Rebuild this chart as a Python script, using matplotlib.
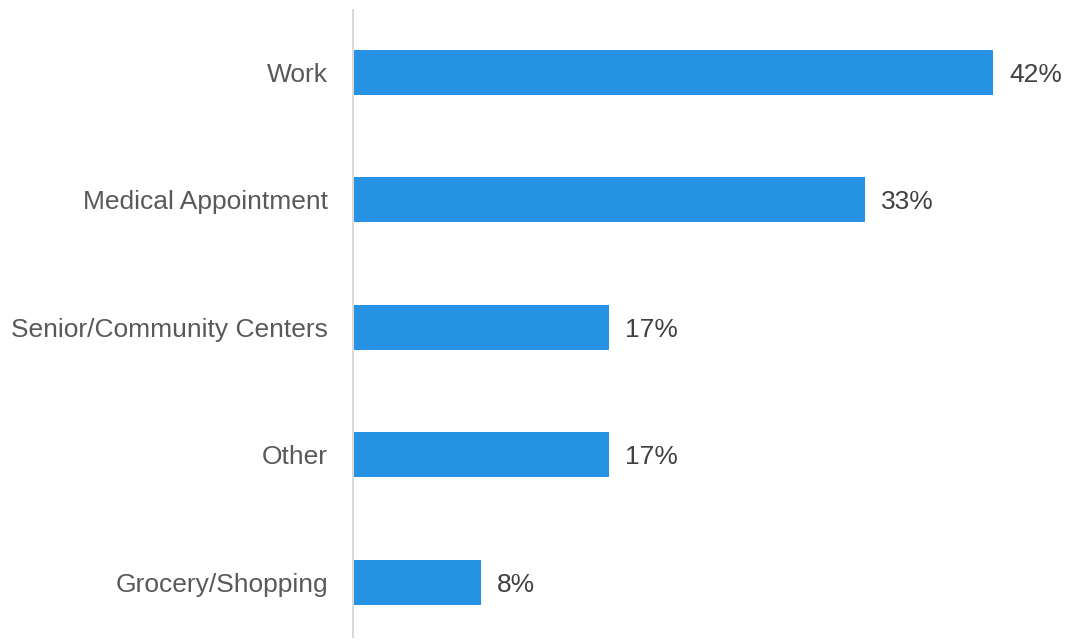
import matplotlib
matplotlib.use("Agg")
import matplotlib.pyplot as plt

categories = ["Work", "Medical Appointment", "Senior/Community Centers", "Other", "Grocery/Shopping"]
shares = [41.67, 33.33, 16.67, 16.67, 8.33]

plt.rcParams["font.family"] = ["Liberation Sans", "DejaVu Sans"]

fig = plt.figure(figsize=(10.67, 6.41), dpi=100)
ax = fig.add_axes([353 / 1067, 1 - 637 / 641, (1067 - 353) / 1067, (637 - 10) / 641])

pos = list(range(len(categories)))
bars = ax.barh(pos, shares, height=0.353, color="#2692E4", left=0)

ax.set_ylim(len(categories) - 1 + 0.43, -0.49)
ax.set_xlim(0, (1067 - 353) / 15.37)

ax.set_yticks(pos)
ax.set_yticklabels(categories, fontsize=19, color="#595959")
ax.tick_params(axis="y", length=0, pad=18)
ax.set_xticks([])

for s in ["top", "right", "bottom"]:
    ax.spines[s].set_visible(False)
ax.spines["left"].set_color("#d9d9d9")
ax.spines["left"].set_linewidth(1.5)

for b, v in zip(bars, shares):
    ax.annotate(f"{v:.0f}%", (b.get_width(), b.get_y() + b.get_height() / 2),
                xytext=(11.5, 0), textcoords="offset points",
                va="center_baseline", ha="left", fontsize=19, color="#404040")

fig.savefig("out.png", dpi=100)
